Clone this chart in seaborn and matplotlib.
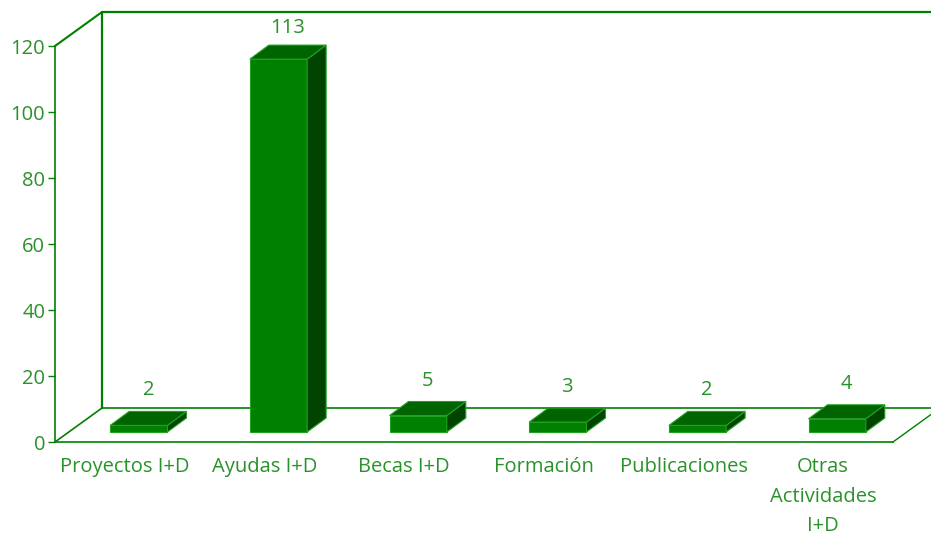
import matplotlib
matplotlib.use("Agg")
import matplotlib.pyplot as plt
import matplotlib.transforms as mtransforms
from matplotlib.patches import Polygon
import pandas as pd
import seaborn as sns

categories = ["Proyectos I+D", "Ayudas I+D", "Becas I+D", "Formación",
              "Publicaciones", "Otras\nActividades\nI+D"]
values = [2, 113, 5, 3, 2, 4]
y_ticks = [0, 20, 40, 60, 80, 100, 120]

sns.set_theme(style="white")
plt.rcParams["font.family"] = ["Open Sans", "DejaVu Sans"]

GREEN = "#008000"
TOP = "#006400"
SIDE = "#004400"
EDGE = "#22a022"
TEXT = "#2a922a"
FS = 14.5

fig = plt.figure(figsize=(9.31, 5.35), dpi=100)
ax = fig.add_axes([55 / 931, 93 / 535, 838 / 931, 396 / 535])

df = pd.DataFrame({"cat": categories, "val": values})
sns.barplot(data=df, x="cat", y="val", color=GREEN, saturation=1, width=0.41,
            edgecolor=EDGE, linewidth=0.8, ax=ax, zorder=3)
ax.set_xlim(-0.5, 5.5)
ax.set_ylim(0, 120)

# pixel -> data scale
sx = 838 / 6
sy = 396 / 120
wall_dx, wall_dy = 47 / sx, 34 / sy     # depth of the box
bar_dx, bar_dy = 19 / sx, 14 / sy       # depth of each bar

# bars sit a bit behind the front floor line
shift = mtransforms.offset_copy(ax.transData, fig, x=14, y=10, units="dots")
label_cap = 120 + wall_dy - 26 / sy   # keep value labels inside the box

for p, v in zip(ax.patches, values):
    p.set_transform(shift)
    x0 = p.get_x()
    x1 = x0 + p.get_width()
    h = p.get_height()
    top = Polygon([(x0, h), (x1, h), (x1 + bar_dx, h + bar_dy), (x0 + bar_dx, h + bar_dy)],
                  closed=True, facecolor=TOP, edgecolor=EDGE, lw=0.8,
                  transform=shift, zorder=3, clip_on=False)
    side = Polygon([(x1, 0), (x1 + bar_dx, bar_dy), (x1 + bar_dx, h + bar_dy), (x1, h)],
                   closed=True, facecolor=SIDE, edgecolor=EDGE, lw=0.8,
                   transform=shift, zorder=3, clip_on=False)
    ax.add_patch(side)
    ax.add_patch(top)
    ly = min(h + bar_dy + 21 / sy, label_cap)
    ax.text(x0 + (x1 - x0) / 2 + bar_dx / 2, ly, str(v), transform=shift,
            ha="center", va="center", color=TEXT, fontsize=FS, clip_on=False)

# box frame
x_l, x_r = -0.5, 5.5
frame = [
    ([x_l, x_l + wall_dx], [0, wall_dy], 1.2),
    ([x_l, x_l + wall_dx], [120, 120 + wall_dy], 1.5),
    ([x_l + wall_dx, x_l + wall_dx], [wall_dy, 120 + wall_dy], 1.6),
    ([x_l + wall_dx, x_r + wall_dx], [120 + wall_dy, 120 + wall_dy], 1.6),
    ([x_l + wall_dx, x_r + wall_dx], [wall_dy, wall_dy], 1.2),
    ([x_r, x_r + wall_dx], [0, wall_dy], 1.0),
]
for xs, ys, lw in frame:
    ax.plot(xs, ys, color=GREEN, lw=lw, clip_on=False, zorder=1)

for s in ["top", "right"]:
    ax.spines[s].set_visible(False)
for s in ["left", "bottom"]:
    ax.spines[s].set_color(GREEN)
    ax.spines[s].set_linewidth(1.2)

ax.set_yticks(y_ticks)
ax.set_yticklabels([str(t) for t in y_ticks])
ax.tick_params(axis="y", left=True, length=5, width=1, color=GREEN, pad=2,
               labelcolor=TEXT, labelsize=FS)
ax.tick_params(axis="x", bottom=False, length=0, pad=11, labelcolor=TEXT, labelsize=FS)
for lab in ax.get_xticklabels():
    lab.set_linespacing(1.62)
    lab.set_va("top")
ax.set_xlabel("")
ax.set_ylabel("")
ax.patch.set_alpha(0)

fig.savefig("out.png", dpi=100)
